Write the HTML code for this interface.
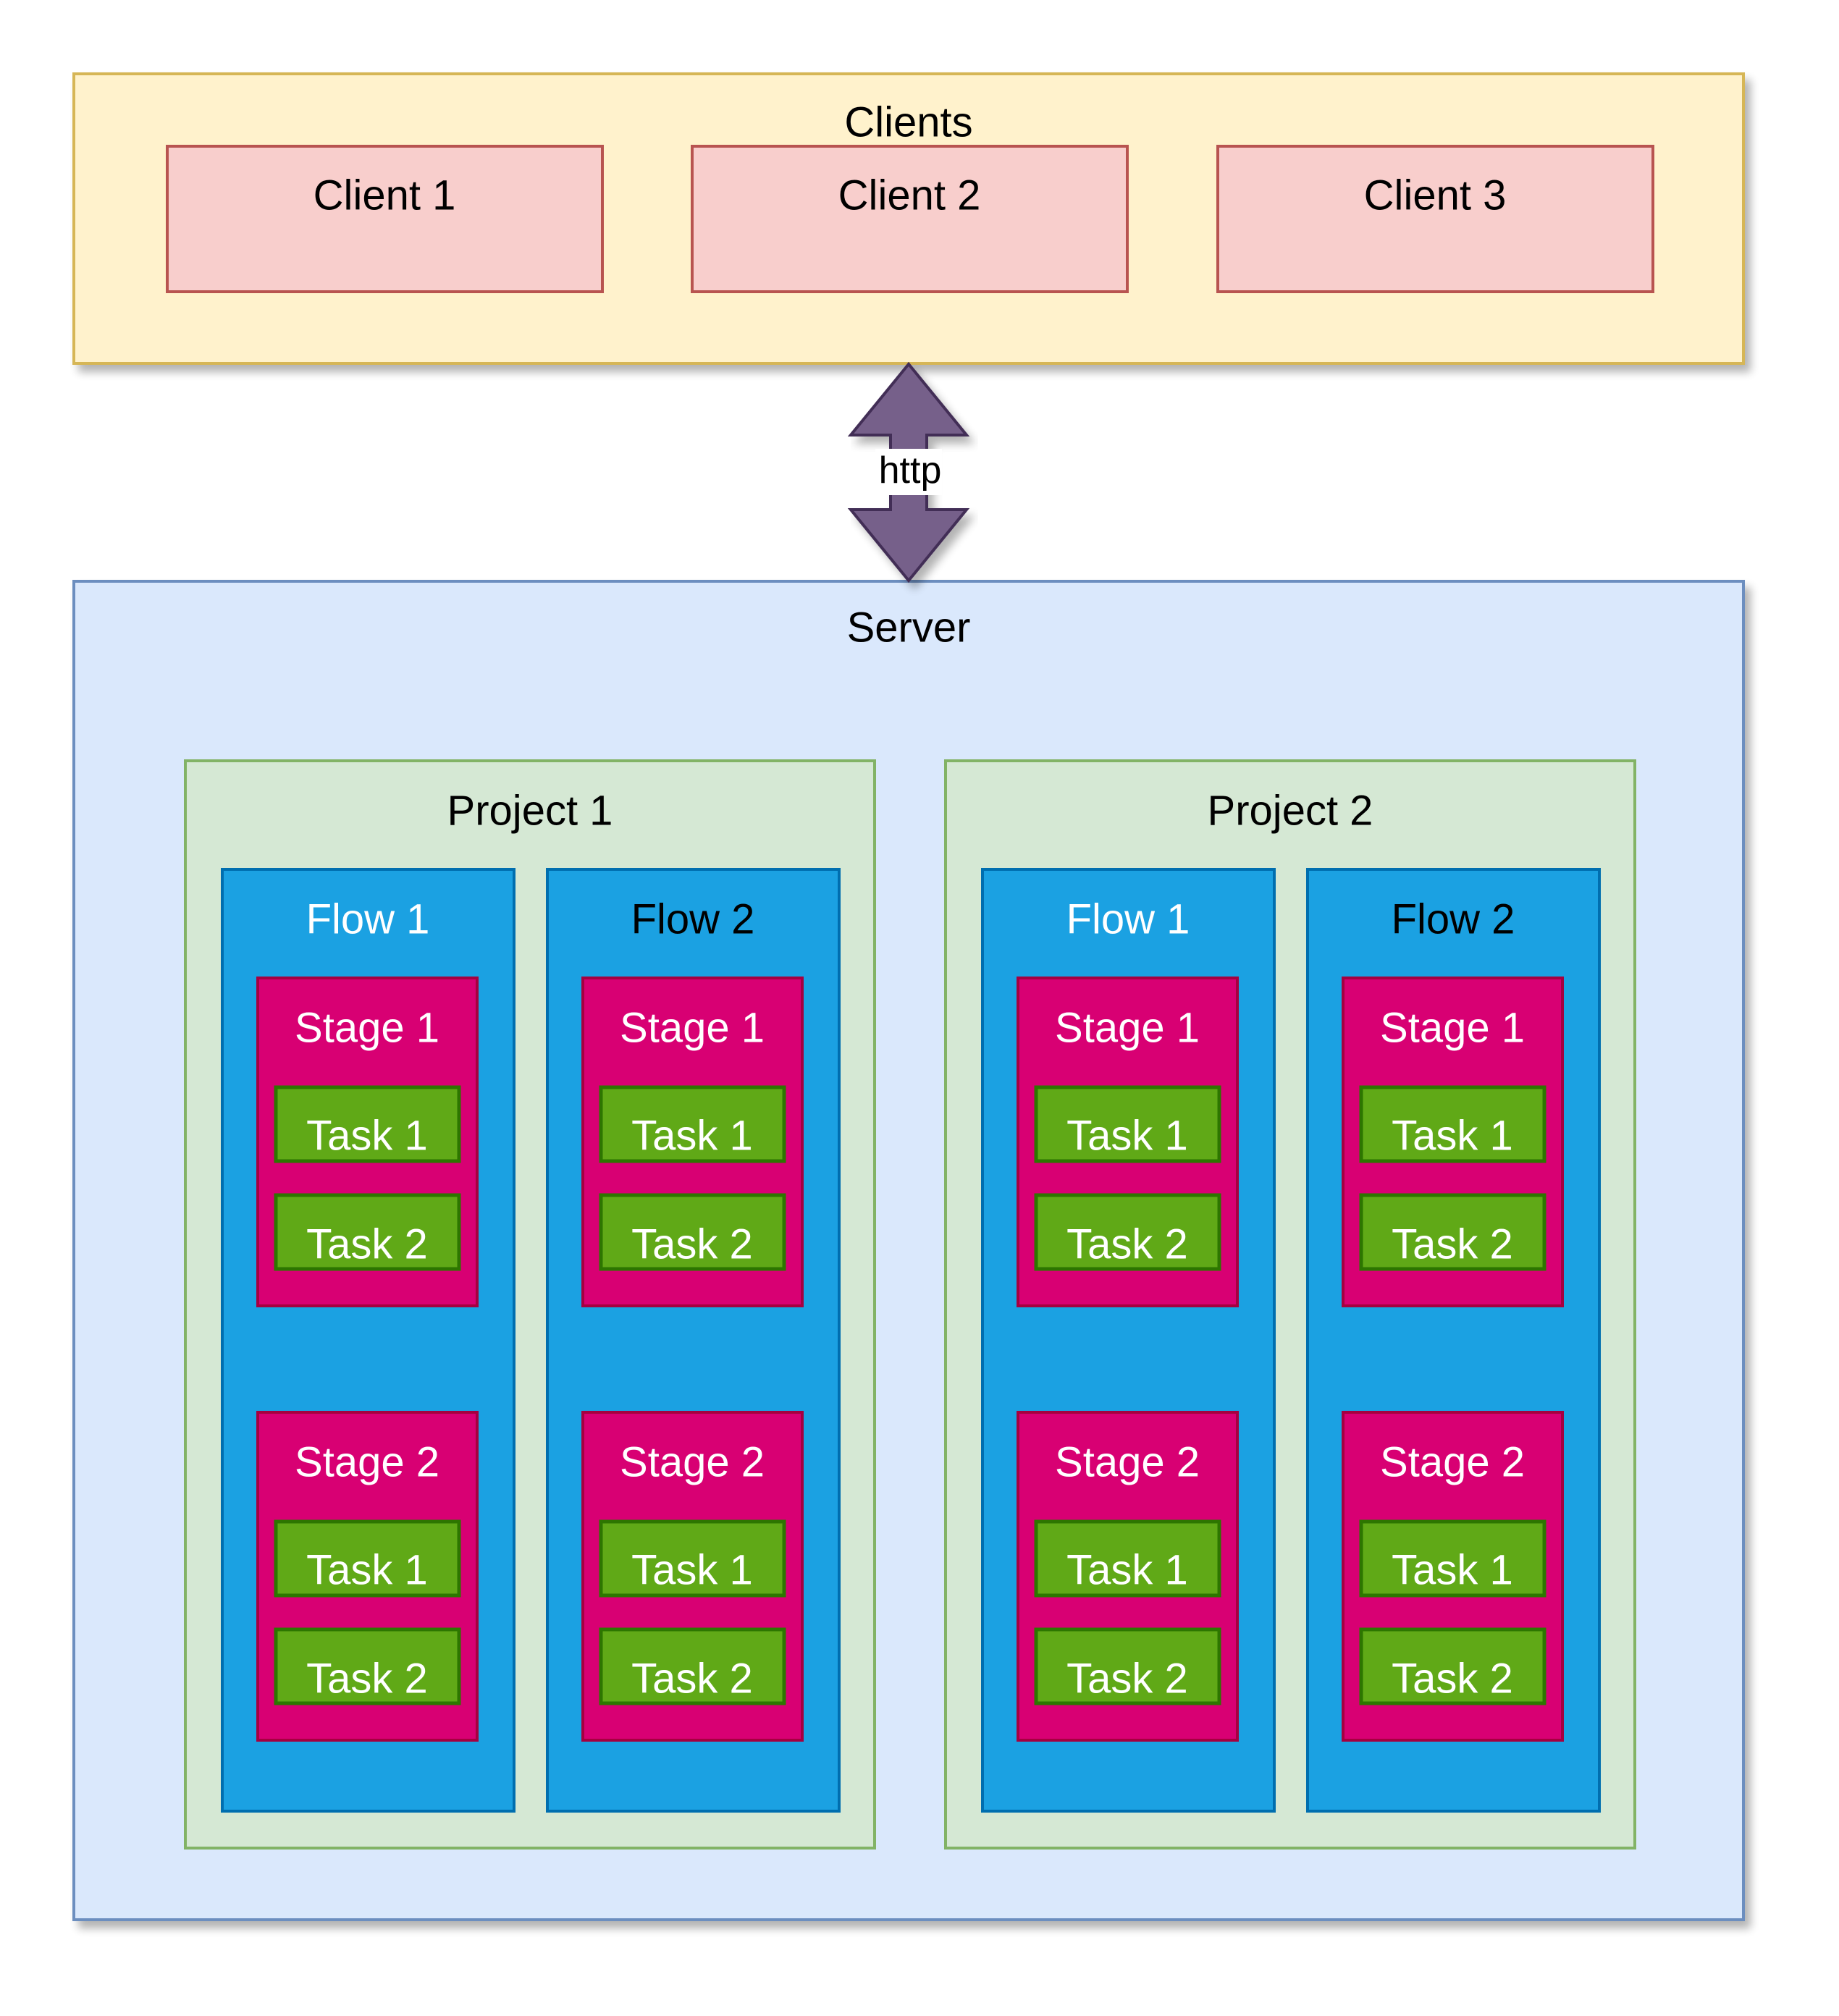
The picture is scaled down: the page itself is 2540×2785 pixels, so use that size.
<!DOCTYPE html>
<html><head><meta charset="utf-8"><style>
html,body{margin:0;padding:0;background:#fff}
svg{display:block}
text{font-family:"Liberation Sans",Arial,sans-serif;font-size:58px;text-anchor:middle;dominant-baseline:central}
</style></head><body>
<svg width="2540" height="2785" viewBox="0 0 2540 2785" xmlns="http://www.w3.org/2000/svg">
<defs>
<filter id="sh" x="-5%" y="-5%" width="115%" height="120%">
<feGaussianBlur in="SourceAlpha" stdDeviation="6"/>
<feOffset dx="8" dy="10" result="b"/>
<feComponentTransfer><feFuncA type="linear" slope="0.3"/></feComponentTransfer>
<feMerge><feMergeNode/><feMergeNode in="SourceGraphic"/></feMerge>
</filter>
<g id="stage">
<rect x="0" y="0" width="303" height="453" fill="#d80073" stroke="#a50040" stroke-width="4"/>
<rect x="25" y="151" width="253" height="102" fill="#60a917" stroke="#2d7600" stroke-width="5"/>
<rect x="25" y="300" width="253" height="102" fill="#60a917" stroke="#2d7600" stroke-width="5"/>
</g>
<g id="stagetxt1" fill="#fff">
<text x="151" y="69">Stage 1</text><text x="151" y="218">Task 1</text><text x="151" y="368">Task 2</text>
</g>
<g id="stagetxt2" fill="#fff">
<text x="151" y="69">Stage 2</text><text x="151" y="218">Task 1</text><text x="151" y="368">Task 2</text>
</g>
<g id="flow">
<rect x="0" y="0" width="403" height="1301" fill="#1ba1e2" stroke="#006eaf" stroke-width="4"/>
<use href="#stage" x="49" y="150"/>
<use href="#stagetxt1" x="49" y="150"/>
<use href="#stage" x="49" y="750"/>
<use href="#stagetxt2" x="49" y="750"/>
</g>
<g id="project">
<rect x="0" y="0" width="952" height="1502" fill="#d5e8d4" stroke="#82b366" stroke-width="4"/>
<use href="#flow" x="51" y="150"/>
<text x="252" y="219" fill="#fff">Flow 1</text>
<use href="#flow" x="500" y="150"/>
<text x="701" y="219">Flow 2</text>
</g>
</defs>
<!-- Clients -->
<rect x="102" y="102" width="2306" height="400" fill="#fff2cc" stroke="#d6b656" stroke-width="4" filter="url(#sh)"/>
<text x="1255" y="169">Clients</text>
<rect x="231" y="202" width="601" height="201" fill="#f8cecc" stroke="#b85450" stroke-width="4"/>
<text x="531" y="270">Client 1</text>
<rect x="956" y="202" width="601" height="201" fill="#f8cecc" stroke="#b85450" stroke-width="4"/>
<text x="1256" y="270">Client 2</text>
<rect x="1682" y="202" width="601" height="201" fill="#f8cecc" stroke="#b85450" stroke-width="4"/>
<text x="1982" y="270">Client 3</text>
<!-- Server -->
<rect x="102" y="803" width="2306" height="1849" fill="#dae8fc" stroke="#6c8ebf" stroke-width="4" filter="url(#sh)"/>
<text x="1255" y="867">Server</text>
<!-- Arrow -->
<polygon points="1255,503 1335,601 1280,601 1280,704 1335,704 1255,802 1175,704 1230,704 1230,601 1175,601" fill="#76608a" stroke="#432d57" stroke-width="4" filter="url(#sh)"/>
<rect x="1209" y="620" width="92" height="64" fill="#fff"/>
<text x="1257" y="650" style="font-size:52px">http</text>
<!-- Projects -->
<use href="#project" x="256" y="1051"/>
<text x="732" y="1120">Project 1</text>
<use href="#project" x="1306" y="1051"/>
<text x="1782" y="1120">Project 2</text>
</svg>
</body></html>
